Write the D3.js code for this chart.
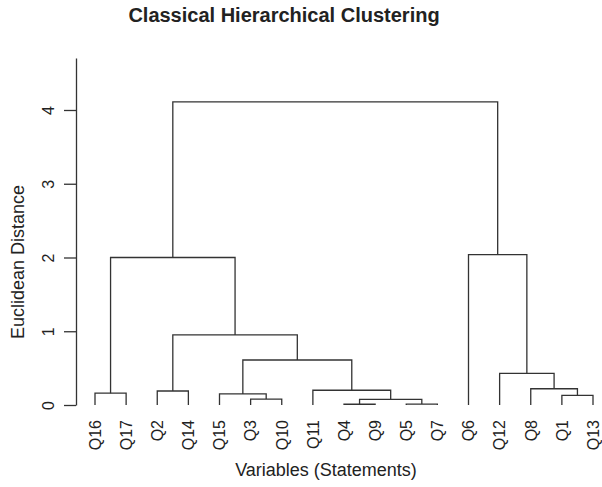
<!DOCTYPE html>
<html lang="en">
<head>
<meta charset="utf-8">
<script src="https://d3js.org/d3.v7.min.js"></script>
<style>
  body { margin: 0; background: #fff; }
  text { font-family: "Liberation Sans", Arial, sans-serif; fill: #222; }
</style>
</head>
<body>
<div id="my_dataviz"></div>
<script>

    // leaf order as drawn, left to right
    var leaves = ["Q16","Q17","Q2","Q14","Q15","Q3","Q10","Q11","Q4","Q9","Q5","Q7","Q6","Q12","Q8","Q1","Q13"];

    // merge steps (R style: a name is a leaf, a number is an earlier merge, 1-based)
    var merges = [
      ["Q4","Q9"], ["Q5","Q7"], ["Q3","Q10"], [1,2], ["Q1","Q13"],
      ["Q15",3], ["Q16","Q17"], ["Q2","Q14"], ["Q11",4], ["Q8",5],
      ["Q12",10], [6,9], [8,12], [7,13], ["Q6",11], [14,15]
    ];
    var heights = [0.01, 0.012, 0.08, 0.075, 0.13, 0.15, 0.16, 0.19, 0.20, 0.22,
                   0.43, 0.61, 0.95, 2.0, 2.04, 4.11];

    var yTicks = [0, 1, 2, 3, 4];

    var width = 602, height = 487;

    var svg = d3.select("#my_dataviz")
      .append("svg")
        .attr("width", width)
        .attr("height", height)

    var x = d3.scalePoint()
      .domain(leaves)
      .range([95, 593])

    var y = d3.scaleLinear()
      .domain([0, 4.705])
      .range([405, 58])

    // positions of each merge: x = mean of children, y = merge height
    var nodes = [];
    function pos(ref) {
      if (typeof ref === "string") return {x: x(ref), h: 0};
      return nodes[ref - 1];
    }
    merges.forEach(function(m, i) {
      var a = pos(m[0]), b = pos(m[1]);
      nodes.push({x: (a.x + b.x) / 2, h: heights[i], a: a, b: b});
    });

    var lineColor = "#333";
    var g = svg.append("g")
      .attr("fill", "none")
      .attr("stroke", lineColor)
      .attr("stroke-width", 1.3)

    nodes.forEach(function(n) {
      var path = d3.path();
      path.moveTo(n.a.x, y(n.a.h));
      path.lineTo(n.a.x, y(n.h));
      path.lineTo(n.b.x, y(n.h));
      path.lineTo(n.b.x, y(n.b.h));
      g.append("path").attr("d", path.toString());
    });

    // Y axis
    var yAxis = svg.append("g")
      .attr("transform", "translate(76,0)")
      .call(d3.axisLeft(y).tickValues(yTicks).tickFormat(d3.format("d")).tickSize(12).tickSizeOuter(0))
    yAxis.select(".domain").attr("stroke", lineColor).attr("stroke-width", 1.3)
    yAxis.selectAll(".tick line").attr("stroke", lineColor).attr("stroke-width", 1.3)
    yAxis.selectAll(".tick text")
      .attr("transform", "rotate(-90)")
      .attr("x", 0)
      .attr("y", -22)
      .attr("dy", 0)
      .style("text-anchor", "middle")
      .style("font-size", "16px")
      .style("font-family", "Liberation Sans, Arial, sans-serif")
      .attr("fill", "#222")

    // leaf labels
    svg.append("g")
      .selectAll("text")
      .data(leaves)
      .enter()
      .append("text")
        .attr("transform", function(d) { return "translate(" + x(d) + ",420) rotate(-90)"; })
        .attr("dy", "0.36em")
        .style("text-anchor", "end")
        .style("font-size", "16px")
        .text(function(d) { return d; })

    // title
    svg.append("text")
      .attr("x", 284)
      .attr("y", 22)
      .style("text-anchor", "middle")
      .style("font-size", "20px")
      .style("font-weight", "bold")
      .text("Classical Hierarchical Clustering")

    // X axis label
    svg.append("text")
      .attr("x", 326)
      .attr("y", 476)
      .style("text-anchor", "middle")
      .style("font-size", "18px")
      .text("Variables (Statements)")

    // Y axis label
    svg.append("text")
      .attr("transform", "translate(24,262) rotate(-90)")
      .style("text-anchor", "middle")
      .style("font-size", "18px")
      .text("Euclidean Distance")

</script>
</body>
</html>
